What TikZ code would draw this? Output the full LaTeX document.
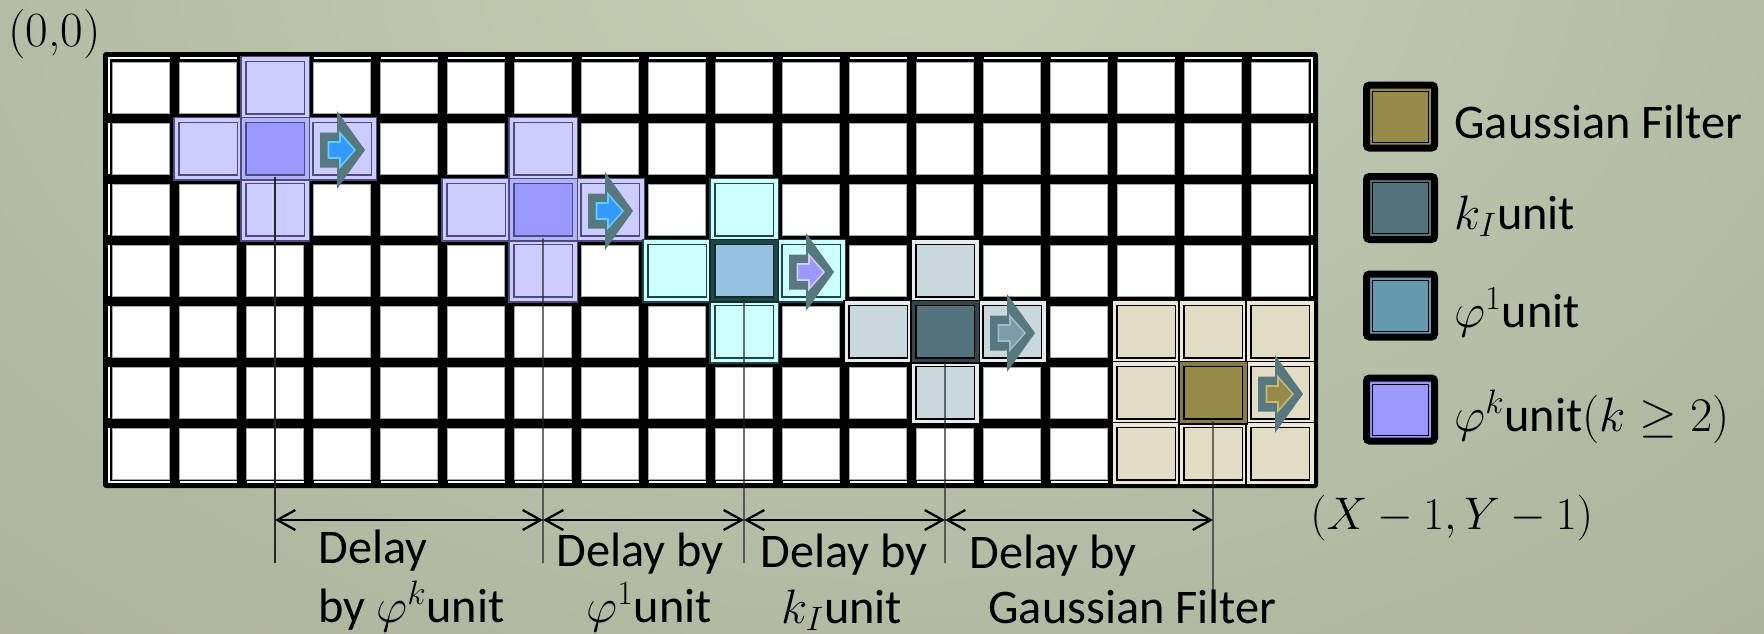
\RequirePackage{fix-cm}
\documentclass[tikz,border=0pt]{standalone}
\usepackage{amsmath}
\usepackage{fontspec}
\newfontfamily\calib{Carlito}
\usepackage{tikz}
\usetikzlibrary{positioning,arrows.meta,calc}

\definecolor{bgIn}{HTML}{C6CEB6}
\definecolor{bgOut}{HTML}{9CA28E}
\definecolor{phiKn}{HTML}{CCCCFF}
\definecolor{phiKc}{HTML}{9999FF}
\definecolor{phiKe}{HTML}{4B4B80}
\definecolor{phiOn}{HTML}{CCFFFF}
\definecolor{phiOc}{HTML}{96C2E2}
\definecolor{phiOe}{HTML}{1E4646}
\definecolor{kIn}{HTML}{C8D8DC}
\definecolor{kIc}{HTML}{52737C}
\definecolor{kIe}{HTML}{E4ECEE}
\definecolor{gsn}{HTML}{E3DCC4}
\definecolor{gsc}{HTML}{968A4A}
\definecolor{gse}{HTML}{EEE8D6}
\definecolor{arBody}{HTML}{587880}
\definecolor{arBlue}{HTML}{3399FF}
\definecolor{arBlueL}{HTML}{66CCFF}
\definecolor{arSlate}{HTML}{7A9CA8}
\definecolor{arSlateL}{HTML}{9CBCC6}
\definecolor{gsL}{HTML}{C8B878}
\definecolor{phiOL}{HTML}{6699AD}

\tikzset{
  cell/.style={fill=white, draw=black!35, line width=0.3pt, minimum width=1.14cm, minimum height=1.02cm, inner sep=0pt, outer sep=0pt},
  ucell/.style n args={3}{fill=#1, draw=#2, double=#3, double distance=0.07cm, line width=0.03cm, minimum width=1.27cm, minimum height=1.15cm, inner sep=0pt, outer sep=0pt},
  phik/.style={ucell={phiKn}{phiKe}{phiKn}},
  phikc/.style={ucell={phiKc}{phiKe}{phiKc!75!white}},
  phio/.style={ucell={phiOn}{phiOe}{phiOn}},
  phioc/.style={ucell={phiOc}{phiOe!60!black}{phiOe}},
  kin/.style={ucell={kIn}{black}{kIe}},
  kic/.style={ucell={kIc}{black}{kIc!60!black}},
  gsn/.style={ucell={gsn}{black}{gse}},
  gsc/.style={ucell={gsc}{black}{gsc!90!black}},
  legbox/.style={draw=black, line width=0.14cm, rounded corners=0.06cm, minimum width=1.36cm, minimum height=1.26cm, inner sep=0pt, outer sep=0pt},
  txt/.style={font=\calib\fontsize{27.5}{33}\selectfont, inner sep=0pt},
  vline/.style={black!85, line width=0.6pt},
  dim/.style={<->, >={Straight Barb[length=0.36cm,width=0.4cm]}, line width=1.3pt}
}

% block arrow showing the shift of a unit
\newcommand{\stepArrow}[3]{%
  \begin{scope}[shift={(#1)}, yshift=-0.03cm]
    \fill[arBody] (-0.44,0.35) -- (-0.1,0.35) -- (-0.1,0.78) -- (0.46,0) -- (-0.1,-0.78) -- (-0.1,-0.35) -- (-0.44,-0.35) -- cycle;
    \filldraw[fill=#2, draw=#3, line width=0.9pt] (-0.27,0.16) -- (-0.04,0.16) -- (-0.04,0.34) -- (0.26,0) -- (-0.04,-0.34) -- (-0.04,-0.16) -- (-0.27,-0.16) -- cycle;
  \end{scope}}

\begin{document}
\begin{tikzpicture}
\useasboundingbox (0,0) rectangle (35.28,-12.66);
% background
\fill[bgOut] (0,0) rectangle (35.28,-12.66);
\begin{scope}
  \clip (0,0) rectangle (35.28,-12.66);
  \shade[inner color=bgIn, outer color=bgOut] (18,1) ellipse (44cm and 30cm);
\end{scope}

% grid of X x Y pixels
\fill[black, rounded corners=0.06cm] (2.06,-1.04) rectangle (26.36,-9.76);
\draw[white, line width=0.03cm] (2.18,-1.16) rectangle (26.24,-9.64);
\foreach \i in {1,...,17}
  \draw[line width=0.2cm] ({2.15+1.34*\i},-1.04) -- ++(0,-8.72);
\foreach \j in {1,...,6}
  \draw[line width=0.2cm] (2.06,{-1.14-1.22*\j}) -- ++(24.3,0);
\foreach \i in {0,...,17}
  \foreach \j in {0,...,6}
    \node[cell] (c\i-\j) at ({2.82+1.34*\i},{-1.75-1.22*\j}) {};

% units
\foreach \p in {2-0,1-1,3-1,2-2,6-1,5-2,7-2,6-3}
  \node[phik] (u\p) at (c\p) {};
\foreach \p in {2-1,6-2}
  \node[phikc] (u\p) at (c\p) {};
\foreach \p in {9-2,8-3,10-3,9-4}
  \node[phio] (u\p) at (c\p) {};
\node[phioc] (u9-3) at (c9-3) {};
\foreach \p in {12-3,11-4,13-4,12-5}
  \node[kin] (u\p) at (c\p) {};
\node[kic] (u12-4) at (c12-4) {};
\foreach \p in {15-4,16-4,17-4,15-5,17-5,15-6,16-6,17-6}
  \node[gsn] (u\p) at (c\p) {};
\node[gsc] (u16-5) at (c16-5) {};

\stepArrow{c3-1}{arBlue}{arBlueL}
\stepArrow{c7-2}{arBlue}{arBlueL}
\stepArrow{c10-3}{phiKc}{phiKn}
\stepArrow{c13-4}{arSlate}{arSlateL}
\stepArrow{c17-5}{gsc}{gsL}

% delays
\coordinate (v1) at (5.50,-11.26);
\coordinate (v2) at (10.86,-11.26);
\coordinate (v3) at (14.88,-11.26);
\coordinate (v4) at (18.90,-11.26);
\coordinate (v5) at (24.26,-12.0);
\coordinate (a1) at (5.50,-10.40);
\coordinate (a2) at (10.86,-10.40);
\coordinate (a3) at (14.88,-10.40);
\coordinate (a4) at (18.90,-10.40);
\coordinate (a5) at (24.26,-10.40);
\foreach \c/\n in {2-1/1,6-2/2,9-3/3,12-4/4,16-5/5}
  \draw[vline] (u\c.south) -- (v\n);
\foreach \a/\b in {a1/a2,a2/a3,a3/a4,a4/a5}
  \draw[dim] (\a) -- (\b);

\node[txt, anchor=base west] (d1a) at (6.36,-11.26) {Delay};
\node[txt, anchor=base west] (d1b) at (6.36,-12.44) {by $\varphi^k$unit};
\node[txt, anchor=base west] (d2a) at (11.12,-11.32) {Delay by};
\node[txt, anchor=base west] (d2b) at (11.72,-12.44) {$\varphi^1$unit};
\node[txt, anchor=base west] (d3a) at (15.20,-11.34) {Delay by};
\node[txt, anchor=base west] (d3b) at (15.62,-12.46) {$k_I$unit};
\node[txt, anchor=base west] (d4a) at (19.38,-11.36) {Delay by};
\node[txt, anchor=base west] (d4b) at (19.76,-12.46) {Gaussian Filter};

\node[anchor=base west, inner sep=0pt, font=\fontsize{28}{32}\selectfont] (orig) at (0.16,-0.92) {(0,0)};
\node[anchor=base west, inner sep=0pt, font=\fontsize{26}{30}\selectfont] (last) at (26.2,-10.58) {$(X-1,Y-1)$};

% legend
\foreach \clr/\txt/\yy [count=\n] in {gsc/{Gaussian Filter}/-2.33, kIc/{$k_I$unit}/-4.16, phiOL/{$\varphi^1$unit}/-6.11, phiKc/{$\varphi^k$unit$(k\geq2)$}/-8.19} {
  \node[legbox, fill=\clr] (lg\n) at (28.01,\yy) {};
  \draw[line width=0.5pt] ([shift={(0.12,0.12)}]lg\n.south west) rectangle ([shift={(-0.12,-0.12)}]lg\n.north east);
  \node[txt, anchor=base west] (lt\n) at ([xshift=0.39cm,yshift=-0.43cm]lg\n.east) {\txt};
}
\end{tikzpicture}
\end{document}
